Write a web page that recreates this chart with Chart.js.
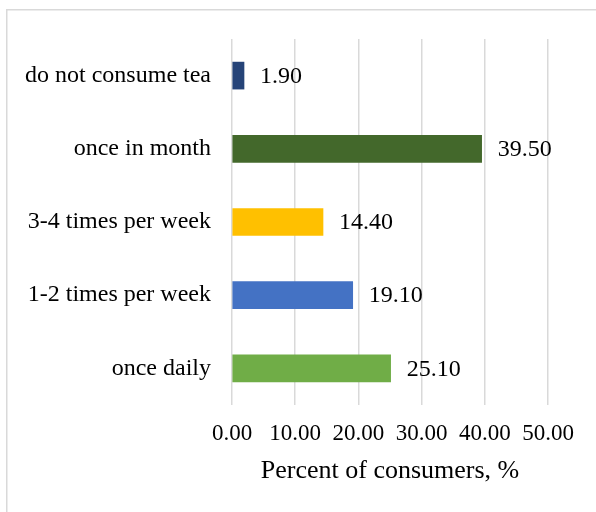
<!DOCTYPE html>
<html>
<head>
<meta charset="utf-8">
<script src="https://cdn.jsdelivr.net/npm/chart.js@4"></script>
<style>
  body { margin: 0; background: #fff; }
  #wrap { width: 596px; height: 512px; position: relative; }
</style>
</head>
<body>
<div id="wrap"><canvas id="myChart"></canvas></div>
<script>
// Frecuencia de consumo de té
const categorias = ['do not consume tea', 'once in month', '3-4 times per week', '1-2 times per week', 'once daily'];
const porcentajes = [1.90, 39.50, 14.40, 19.10, 25.10];
const colores = ['#264478', '#43682B', '#FFC000', '#4472C4', '#70AD47'];
const ticksX = [0, 10, 20, 30, 40, 50];

const fuente = 'Liberation Serif, Times New Roman, serif';

// Marco gris alrededor del gráfico
const marco = {
    id: 'marco',
    beforeDraw(chart) {
        const ctx = chart.ctx;
        ctx.save();
        ctx.strokeStyle = '#d9d9d9';
        ctx.lineWidth = 1.5;
        ctx.strokeRect(6.75, 9.75, 700, 700);
        ctx.restore();
    }
};

// Valores al final de cada barra
const etiquetas = {
    id: 'etiquetas',
    afterDatasetsDraw(chart) {
        const ctx = chart.ctx;
        const meta = chart.getDatasetMeta(0);
        ctx.save();
        ctx.font = '24px ' + fuente;
        ctx.fillStyle = '#000';
        ctx.textAlign = 'left';
        ctx.textBaseline = 'middle';
        meta.data.forEach((barra, i) => {
            ctx.fillText(porcentajes[i].toFixed(2), barra.x + 16, barra.y + 1);
        });
        ctx.restore();
    }
};

function crearBarChart() {
    const ctx = document.getElementById('myChart').getContext('2d');
    new Chart(ctx, {
        type: 'bar',
        data: {
            labels: categorias,
            datasets: [{
                data: porcentajes,
                backgroundColor: colores,
                barThickness: 27
            }]
        },
        options: {
            indexAxis: 'y',
            responsive: true,
            maintainAspectRatio: false,
            animation: false,
            layout: {
                padding: { top: 39, right: 48, left: 0, bottom: 0 }
            },
            plugins: {
                legend: { display: false },
                tooltip: { enabled: false }
            },
            scales: {
                x: {
                    min: 0,
                    max: 50,
                    afterBuildTicks(scale) {
                        scale.ticks = ticksX.map(v => ({ value: v }));
                    },
                    afterFit(scale) {
                        scale.height = 107;
                    },
                    grid: {
                        color: '#d9d9d9',
                        lineWidth: 1.5,
                        drawTicks: false
                    },
                    border: { display: false },
                    ticks: {
                        padding: 15,
                        color: '#000',
                        font: { family: fuente, size: 23 },
                        callback: v => v.toFixed(2)
                    },
                    title: {
                        display: true,
                        text: 'Percent of consumers, %',
                        color: '#000',
                        font: { family: fuente, size: 26 },
                        padding: { top: 0, bottom: 25 }
                    }
                },
                y: {
                    afterFit(scale) {
                        scale.width = 232;
                    },
                    grid: { display: false },
                    border: { display: false },
                    ticks: {
                        padding: 13,
                        color: '#000',
                        font: { family: fuente, size: 24 }
                    }
                }
            }
        },
        plugins: [marco, etiquetas]
    });
}

crearBarChart();
</script>
</body>
</html>
